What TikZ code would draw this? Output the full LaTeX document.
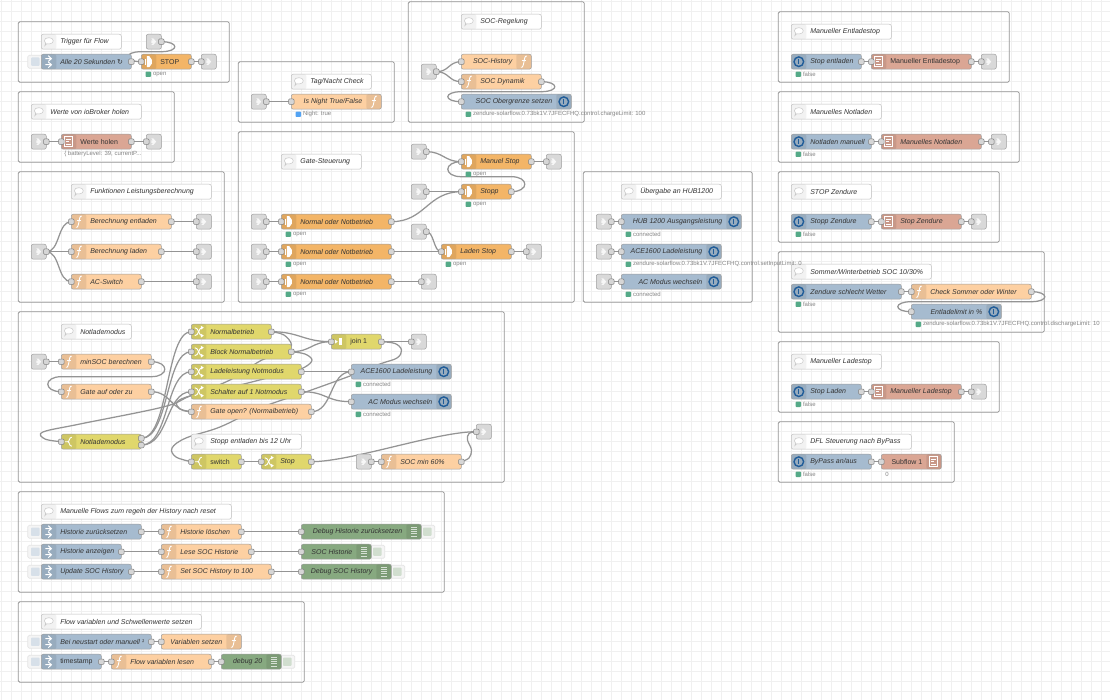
\documentclass[tikz,border=0pt]{standalone}
\usepackage{fontspec}
\usetikzlibrary{calc}
\setmainfont{Liberation Sans}
\newfontfamily\symfont{DejaVu Sans}

\definecolor{cfn}{HTML}{FDD0A2}
\definecolor{cgate}{HTML}{F3B567}
\definecolor{capi}{HTML}{A6BBCF}
\definecolor{csalmon}{HTML}{DAA694}
\definecolor{cchange}{HTML}{E0D76C}
\definecolor{cdebug}{HTML}{87A980}
\definecolor{clink}{HTML}{D9D9D9}
\definecolor{cring}{HTML}{1F5C99}
\definecolor{cgreen}{HTML}{55AA88}
\definecolor{cblue}{HTML}{53A3F3}

\pgfdeclarelayer{canvas}
\pgfdeclarelayer{wires}
\pgfsetlayers{canvas,wires,main}

\tikzset{
    nrgroup/.style={draw=black!42, line width=.8pt, rounded corners=1.5pt},
    nrgrid/.style={draw=black!6, line width=.5pt},
    nrwire/.style={draw=black!42, line width=1.25pt, line cap=round},
    nrbox/.style={draw=black!38, line width=.5pt, rounded corners=2pt, inner sep=0pt, outer sep=0pt, minimum height=15pt},
    nrtext/.style={font=\fontsize{7}{8}\selectfont\itshape, text=black!80, inner sep=0pt, outer sep=0pt},
    nrstatus/.style={font=\fontsize{6}{7}\selectfont, text=black!48, inner sep=0pt, outer sep=0pt, anchor=west},
    nrdot/.style={rounded corners=.8pt, minimum size=5.4pt, inner sep=0pt, outer sep=0pt},
    nrport/.style={draw=black!50, fill=black!16, line width=.5pt, rounded corners=1pt, minimum size=5.4pt, inner sep=0pt},
    nrbtn/.style={draw=black!10, fill=black!4, line width=.7pt, rounded corners=1.5pt, minimum height=13pt, minimum width=15pt, inner sep=0pt},
    nrbtnface/.style={rounded corners=.8pt, minimum size=8.4pt, inner sep=0pt},
    panell/.style={path picture={\fill[black, opacity=.08] (path picture bounding box.north west) rectangle ++(15,15);}},
    panelr/.style={path picture={\fill[black, opacity=.08] (path picture bounding box.north east) rectangle ++(-15,15);}},
    panelc/.style={path picture={\fill[black!5] (path picture bounding box.north west) rectangle ++(15,15);}},
    pics/fnicon/.style={code={
        \draw[white, line width=.9pt] (3,-5.5) .. controls (1,-6.5) and (.8,-3) .. (.2,0) .. controls (-.5,3.5) and (-1,6.5) .. (-3,5.5);
        \draw[white, line width=.7pt] (-2,-1.5) -- (2.5,-1.5);}},
    pics/gateicon/.style={code={
        \fill[white] (-2,-5.5) -- (.5,-5.5) -- (3,-2) -- (3,2) -- (.5,5.5) -- (-2,5.5) -- cycle;
        \draw[white, line width=.6pt] (-3.6,-3) -- (-3.6,3);}},
    pics/injecticon/.style={code={
        \draw[white, line width=1pt] (-3.5,-3) -- (2,-3) (-.5,-6) -- (2.6,-3) -- (-.5,-.3);
        \draw[white, line width=1pt] (-3.5,3) -- (2,3) (-.5,.3) -- (2.6,3) -- (-.5,6);}},
    pics/powericon/.style={code={
        \draw[cring, line width=1.4pt] (0,0) circle (4.8pt);
        \draw[cring, line width=1.2pt] (0,-3) -- (0,2.5);}},
    pics/listicon/.style={code={
        \draw[white, line width=.7pt] (-4,-5) rectangle (4,5);
        \draw[white, line width=.6pt] (-2.5,-2.5) -- (2.5,-2.5) (-2.5,0) -- (.5,0) (-2.5,2.5) -- (2.5,2.5);}},
    pics/debugicon/.style={code={
        \foreach \yy in {-4.4,-2.2,0,2.2,4.4} \draw[white, line width=1pt, opacity=.7] (-3,\yy) -- (3,\yy);}},
    pics/changeicon/.style={code={
        \draw[white, line width=.9pt] (-4,-4) .. controls (0,-4) and (0,4) .. (3,4);
        \draw[white, line width=.9pt] (-4,4) .. controls (0,4) and (0,-4) .. (3,-4);
        \fill[white] (2,-6) -- (5,-4) -- (2,-2) -- cycle (2,2) -- (5,4) -- (2,6) -- cycle;}},
    pics/switchicon/.style={code={
        \draw[white, line width=.9pt] (-4,0) -- (-1,0) (3,-4.5) .. controls (0,-4.5) and (1,0) .. (-1,0) .. controls (1,0) and (0,4.5) .. (3,4.5);}},
    pics/joinicon/.style={code={
        \fill[white] (-4,-2) -- (-1,0) -- (-4,2) -- cycle;
        \fill[white] (.5,-3.5) rectangle (3.5,3.5);}},
    pics/linkicon/.style={code={
        \fill[white, opacity=.8, scale=.8] (-3,-4) -- (-.5,-4) -- (3,0) -- (-.5,4) -- (-3,4) -- (-1,1.5) -- (-3,1.5) -- (-3,-1.5) -- (-1,-1.5) -- cycle;}},
    pics/bubbleicon/.style={code={
        \draw[black!22, fill=white, line width=.5pt] (-4.5,-1) .. controls (-4.5,-5) and (4.5,-5) .. (4.5,-1) .. controls (4.5,2.5) and (-1,2.5) .. (-2,2) -- (-4,4) -- (-3.2,1.5) .. controls (-4,1) .. (-4.5,-1);}},
}

% style, name, left, right, y, text, icon
\newcommand{\nodeleft}[7]{
    \node[nrbox, #1, panell, minimum width={(#4-#3)*1pt}, label={[nrtext, anchor=west, xshift=19pt]west:#6}] (#2) at ({(#3+#4)/2},#5) {};
    \pic at ({#3+7.5},#5) {#7};
}
\newcommand{\noderight}[7]{
    \node[nrbox, #1, panelr, minimum width={(#4-#3)*1pt}, label={[nrtext, anchor=east, xshift=-19pt]east:#6}] (#2) at ({(#3+#4)/2},#5) {};
    \pic at ({#4-7.5},#5) {#7};
}
% name, node, colour, text
\newcommand{\nodestatus}[4]{
    \node[nrdot, fill=#3] (#1dot) at ([xshift=7pt,yshift=-5.1pt]#2.south west) {};
    \node[nrstatus] (#1txt) at ([xshift=2pt]#1dot.east) {#4};
}

\begin{document}
\begin{tikzpicture}[x=1pt, y=-1pt]
    \useasboundingbox (0,0) rectangle (1110,700);

    \begin{pgfonlayer}{canvas}
        \fill[white] (0,0) rectangle (1110,700);
        \foreach \xx in {1.3,11.3,...,1110} \draw[nrgrid] (\xx,0) -- (\xx,700);
        \foreach \yy in {1.7,11.7,...,700} \draw[nrgrid] (0,\yy) -- (1110,\yy);
        \foreach \xa/\ya/\xb/\yb in {18.3/21.7/229.3/82.3, 18.3/91.7/174.3/162.3, 18.3/171.7/224.3/302.3, 238.3/61.7/394.3/122.3,
            238.3/131.7/574.3/302.3, 408.3/1.7/584.3/122.3, 583.3/171.7/752.3/302.3, 778.3/11.7/1009.3/82.3,
            778.3/91.7/1019.3/162.3, 778.3/171.7/999.3/242.3, 778.3/251.7/1044.3/332.3, 778.3/341.7/999.3/412.3,
            778.3/421.7/954.3/482.3, 18.3/311.7/504.3/482.3, 18.3/491.7/444.3/592.3, 18.3/601.7/304.3/682.3}
            \draw[nrgroup] (\xa,\ya) rectangle (\xb,\yb);
    \end{pgfonlayer}

    % comments
    \foreach \n/\xa/\xb/\yy/\txt in {cmTrigger/41.3/121.3/41.7/{Trigger für Flow}, cmWerte/31.3/141.3/111.7/{Werte von ioBroker holen},
        cmLeistung/71.3/211.3/191.7/{Funktionen Leistungsberechnung}, cmNacht/291.3/371.3/81.7/{Tag/Nacht Check},
        cmGate/281.3/361.3/161.7/{Gate-Steuerung}, cmSoc/461.3/541.3/21.7/{SOC-Regelung}, cmHub/621.3/721.3/191.7/{Übergabe an HUB1200},
        cmEntlade/791.3/891.3/31.7/{Manueller Entladestop}, cmNotladen/791.3/881.3/111.7/{Manuelles Notladen},
        cmZendure/791.3/871.3/191.7/{STOP Zendure}, cmSommer/791.3/931.3/271.7/{Sommer/Winterbetrieb SOC 10/30\%},
        cmLadestop/791.3/881.3/361.7/{Manueller Ladestop}, cmDfl/791.3/911.3/441.7/{DFL Steuerung nach ByPass},
        cmNotlade/61.3/131.3/331.7/{Notlademodus}, cmStoppEnt/191.3/301.3/441.7/{Stopp entladen bis 12 Uhr},
        cmHistory/41.3/231.3/511.7/{Manuelle Flows zum regeln der History nach reset}, cmFlowvar/41.3/201.3/621.7/{Flow variablen und Schwellenwerte setzen}}
    {
        \node[nrbox, draw=black!25, fill=white, panelc, minimum width={(\xb-\xa)*1pt}, label={[nrtext, anchor=west, xshift=19pt]west:\txt}] (\n) at ({(\xa+\xb)/2},\yy) {};
        \pic at ({\xa+7.5},\yy) {bubbleicon};
    }

    % link nodes
    \foreach \n/\xa/\yy in {lkTrigIn/146.3/41.7, lkTrigOut/201.3/61.7, lkWerteIn/31.3/141.7, lkWerteOut/146.3/141.7, lkLeist/31.3/251.7,
        lkEntl/196.3/221.7, lkLad/196.3/251.7, lkSw/196.3/281.7, lkNacht/251.3/101.7, lkNormA/251.3/221.7, lkNormB/251.3/251.7,
        lkNormC/251.3/281.7, lkNormOut/421.3/281.7, lkManuel/411.3/151.7, lkManuelOut/546.3/161.7, lkStopp/411.3/191.7, lkLaden/411.3/231.7,
        lkLadenOut/526.3/251.7, lkSoc/421.3/71.7, lkHub/596.3/221.7, lkAce/596.3/251.7, lkMode/596.3/281.7, lkEntOut/981.3/61.7,
        lkNotOut/991.3/141.7, lkZenOut/971.3/221.7, lkLadOut/971.3/391.7, lkMin/31.3/361.7, lkJoinOut/411.3/341.7, lkSocIn/356.3/461.7, lkSocOut/476.3/431.7}
    {
        \node[nrbox, fill=clink, minimum width=15pt] (\n) at ({\xa+7.5},\yy) {};
        \pic at ({\xa+7.5},\yy) {linkicon};
    }

    % inject buttons
    \foreach \n/\xa/\yy in {btAlle/41.3/61.7, btZurueck/41.3/531.7, btAnzeigen/41.3/551.7, btUpdate/41.3/571.7, btNeustart/41.3/641.7, btStamp/41.3/661.7}
    {
        \node[nrbtn] (\n) at ({\xa-6},\yy) {};
        \node[nrbtnface, fill=capi!45] (\n face) at ({\xa-6},\yy) {};
    }
    % debug buttons
    \foreach \n/\xb/\yy in {btDbgZ/421.3/531.7, btDbgS/371.3/551.7, btDbgU/391.3/571.7, btDbg20/281.3/661.7}
    {
        \node[nrbtn] (\n) at ({\xb+6},\yy) {};
        \node[nrbtnface, fill=cdebug!38] (\n face) at ({\xb+6},\yy) {};
    }

    % inject
    \foreach \n/\xa/\xb/\yy/\txt in {inAlle/41.3/131.3/61.7/{Alle 20 Sekunden {\symfont ↻}}, inZurueck/41.3/141.3/531.7/{Historie zurücksetzen},
        inAnzeigen/41.3/121.3/551.7/{Historie anzeigen}, inUpdate/41.3/131.3/571.7/{Update SOC History},
        inNeustart/41.3/151.3/641.7/{Bei neustart oder manuell ¹}, inStamp/41.3/101.3/661.7/{\upshape timestamp}}
    {
        \nodeleft{fill=capi}{\n}{\xa}{\xb}{\yy}{\txt}{injecticon}
    }

    % functions, icon on the left
    \foreach \n/\xa/\xb/\yy/\txt in {fnEntl/71.3/171.3/221.7/{Berechnung entladen}, fnLad/71.3/161.3/251.7/{Berechnung laden}, fnSw/71.3/141.3/281.7/{AC-Switch},
        fnDynamik/461.3/541.3/81.7/{SOC Dynamik}, fnSommer/911.3/1031.3/291.7/{Check Sommer oder Winter}, fnMin/61.3/151.3/361.7/{minSOC berechnen},
        fnAuf/61.3/151.3/391.7/{Gate auf oder zu}, fnOpen/191.3/311.3/411.7/{Gate open? (Normalbetrieb)}, fnSocMin/381.3/461.3/461.7/{SOC min 60\%},
        fnLoeschen/161.3/241.3/531.7/{Historie löschen}, fnLese/161.3/251.3/551.7/{Lese SOC Historie}, fnSet/161.3/271.3/571.7/{Set SOC History to 100},
        fnLesen/111.3/211.3/661.7/{Flow variablen lesen}}
    {
        \nodeleft{fill=cfn}{\n}{\xa}{\xb}{\yy}{\txt}{fnicon}
    }
    % functions, icon on the right
    \foreach \n/\xa/\xb/\yy/\txt in {fnNacht/291.3/381.3/101.7/{Is Night True/False}, fnHistory/461.3/531.3/61.7/{SOC-History}, fnSetzen/161.3/241.3/641.7/{Variablen setzen}}
    {
        \noderight{fill=cfn}{\n}{\xa}{\xb}{\yy}{\txt}{fnicon}
    }

    % gates
    \foreach \n/\xa/\xb/\yy/\txt in {gtStop/141.3/191.3/61.7/{\upshape STOP}, gtNormA/281.3/391.3/221.7/{Normal oder Notbetrieb}, gtNormB/281.3/391.3/251.7/{Normal oder Notbetrieb},
        gtNormC/281.3/391.3/281.7/{Normal oder Notbetrieb}, gtManuel/461.3/531.3/161.7/{Manuel Stop}, gtStopp/461.3/511.3/191.7/{Stopp}, gtLaden/441.3/511.3/251.7/{Laden Stop}}
    {
        \nodeleft{fill=cgate}{\n}{\xa}{\xb}{\yy}{\txt}{gateicon}
    }

    % state nodes, icon on the right
    \foreach \n/\xa/\xb/\yy/\txt in {apOber/461.3/571.3/101.7/{SOC Obergrenze setzen}, apHub/621.3/741.3/221.7/{HUB 1200 Ausgangsleistung}, apAce/621.3/721.3/251.7/{ACE1600 Ladeleistung},
        apMode/621.3/721.3/281.7/{AC Modus wechseln}, apLimit/911.3/1001.3/311.7/{Entladelimit in \%}, apAceB/351.3/451.3/371.7/{ACE1600 Ladeleistung}, apModeB/351.3/451.3/401.7/{AC Modus wechseln}}
    {
        \noderight{fill=capi}{\n}{\xa}{\xb}{\yy}{\txt}{powericon}
    }
    % state nodes, icon on the left
    \foreach \n/\xa/\xb/\yy/\txt in {swEnt/791.3/861.3/61.7/{Stop entladen}, swNot/791.3/871.3/141.7/{Notladen manuell}, swZen/791.3/871.3/221.7/{Stopp Zendure},
        swWetter/791.3/901.3/291.7/{Zendure schlecht Wetter}, swLad/791.3/861.3/391.7/{Stop Laden}, swBypass/791.3/871.3/461.7/{ByPass an/aus}}
    {
        \nodeleft{fill=capi}{\n}{\xa}{\xb}{\yy}{\txt}{powericon}
    }

    % salmon nodes
    \foreach \n/\xa/\xb/\yy/\txt in {slWerte/61.3/131.3/141.7/{\upshape Werte holen}, slEnt/871.3/971.3/61.7/{\upshape Manueller Entladestop}, slNot/881.3/981.3/141.7/{Manuelles Notladen},
        slZen/881.3/961.3/221.7/{Stop Zendure}, slLad/871.3/961.3/391.7/{Manueller Ladestop}}
    {
        \nodeleft{fill=csalmon}{\n}{\xa}{\xb}{\yy}{\txt}{listicon}
    }
    \noderight{fill=csalmon}{slSub}{881.3}{941.3}{461.7}{\upshape Subflow 1}{listicon}

    % change, switch, join
    \foreach \n/\xa/\xb/\yy/\txt in {chNorm/191.3/271.3/331.7/{Normalbetrieb}, chBlock/191.3/291.3/351.7/{Block Normalbetrieb}, chLade/191.3/301.3/371.7/{Ladeleistung Notmodus},
        chSchalter/191.3/301.3/391.7/{Schalter auf 1 Notmodus}, chStop/261.3/311.3/461.7/{Stop}}
    {
        \nodeleft{fill=cchange}{\n}{\xa}{\xb}{\yy}{\txt}{changeicon}
    }
    \nodeleft{fill=cchange}{swNotlade}{61.3}{141.3}{441.7}{Notlademodus}{switchicon}
    \nodeleft{fill=cchange}{swStop}{191.3}{241.3}{461.7}{\upshape switch}{switchicon}
    \nodeleft{fill=cchange}{jnOne}{331.3}{381.3}{341.7}{\upshape join 1}{joinicon}

    % debug
    \foreach \n/\xa/\xb/\yy/\txt in {dbZurueck/301.3/421.3/531.7/{Debug Historie zurücksetzen}, dbSoc/301.3/371.3/551.7/{SOC Historie}, dbUpdate/301.3/391.3/571.7/{Debug SOC History}, dbTwenty/221.3/281.3/661.7/{debug 20}}
    {
        \noderight{fill=cdebug}{\n}{\xa}{\xb}{\yy}{\txt}{debugicon}
    }

    % status
    \foreach \n/\c/\txt in {gtStop/cgreen/open, fnNacht/cblue/{Night: true}, gtNormA/cgreen/open, gtNormB/cgreen/open, gtNormC/cgreen/open, gtManuel/cgreen/open, gtStopp/cgreen/open, gtLaden/cgreen/open,
        apOber/cgreen/{zendure-solarflow.0.73bk1V.7JFECFHQ.control.chargeLimit: 100}, apHub/cgreen/connected, apAce/cgreen/{zendure-solarflow.0.73bk1V.7JFECFHQ.control.setInputLimit: 0}, apMode/cgreen/connected,
        swEnt/cgreen/false, swNot/cgreen/false, swZen/cgreen/false, swWetter/cgreen/false, apLimit/cgreen/{zendure-solarflow.0.73bk1V.7JFECFHQ.control.dischargeLimit: 10},
        swLad/cgreen/false, swBypass/cgreen/false, apAceB/cgreen/connected, apModeB/cgreen/connected}
    {
        \nodestatus{st\n}{\n}{\c}{\txt}
    }
    \node[nrstatus] (stWerte) at ([xshift=3pt,yshift=-5.1pt]slWerte.south west) {\{ batteryLevel: 39, currentP...};
    \node[nrstatus] (stSub) at ([xshift=4pt,yshift=-5.1pt]slSub.south west) {0};

    % ports
    \foreach \n in {fnEntl,fnLad,fnSw,fnDynamik,fnSommer,fnMin,fnAuf,fnOpen,fnSocMin,fnLoeschen,fnLese,fnSet,fnLesen,fnNacht,fnHistory,fnSetzen,
        gtStop,gtNormA,gtNormB,gtNormC,gtManuel,gtStopp,gtLaden,apOber,apHub,apAce,apMode,apLimit,apAceB,apModeB,slWerte,slEnt,slNot,slZen,slLad,slSub,
        chNorm,chBlock,chLade,chSchalter,chStop,swNotlade,swStop,jnOne,dbZurueck,dbSoc,dbUpdate,dbTwenty,lkTrigOut,lkWerteOut,lkEntl,lkLad,lkSw,lkNormOut,
        lkManuelOut,lkLadenOut,lkEntOut,lkNotOut,lkZenOut,lkLadOut,lkJoinOut,lkSocOut}
        \node[nrport] (\n pi) at (\n.west) {};
    \foreach \n in {inAlle,inZurueck,inAnzeigen,inUpdate,inNeustart,inStamp,fnEntl,fnLad,fnSw,fnDynamik,fnSommer,fnMin,fnAuf,fnOpen,fnSocMin,fnLoeschen,fnLese,fnSet,fnLesen,
        gtStop,gtNormA,gtNormB,gtNormC,gtManuel,gtStopp,gtLaden,swEnt,swNot,swZen,swWetter,swLad,swBypass,slWerte,slEnt,slNot,slZen,slLad,
        chNorm,chBlock,chLade,chSchalter,chStop,swStop,jnOne,lkTrigIn,lkWerteIn,lkLeist,lkNacht,lkNormA,lkNormB,lkNormC,lkManuel,lkStopp,lkLaden,lkSoc,lkHub,lkAce,lkMode,lkMin,lkSocIn}
        \node[nrport] (\n po) at (\n.east) {};
    \node[nrport] (swNotladeA) at ([yshift=3.4pt]swNotlade.east) {};
    \node[nrport] (swNotladeB) at ([yshift=-3.4pt]swNotlade.east) {};

    \begin{pgfonlayer}{wires}
        % forward wires
        \foreach \a/\b/\d in {inAlle/gtStop/8, gtStop/lkTrigOut/8, lkWerteIn/slWerte/8, slWerte/lkWerteOut/8, lkLeist/fnEntl/14, lkLeist/fnLad/14, lkLeist/fnSw/14,
            fnEntl/lkEntl/14, fnLad/lkLad/14, fnSw/lkSw/14, lkNacht/fnNacht/14, lkNormA/gtNormA/8, lkNormB/gtNormB/8, lkNormC/gtNormC/8, gtNormA/gtStopp/34,
            gtNormB/gtLaden/14, gtNormC/lkNormOut/14, lkManuel/gtManuel/17, gtManuel/lkManuelOut/8, lkStopp/gtStopp/17, lkLaden/gtLaden/8, gtLaden/lkLadenOut/8,
            lkSoc/fnHistory/13, lkSoc/fnDynamik/13, lkHub/apHub/8, lkAce/apAce/8, lkMode/apMode/8, swEnt/slEnt/5, slEnt/lkEntOut/5, swNot/slNot/5, slNot/lkNotOut/5,
            swZen/slZen/5, slZen/lkZenOut/5, swWetter/fnSommer/5, swLad/slLad/5, slLad/lkLadOut/5, swBypass/slSub/5, lkMin/fnMin/8, fnAuf/fnOpen/20,
            chNorm/jnOne/28, chBlock/jnOne/20, jnOne/lkJoinOut/14, chLade/apAceB/20, chSchalter/apModeB/26, fnOpen/apAceB/22, swStop/chStop/10, chStop/lkSocOut/40, lkSocIn/fnSocMin/5,
            inZurueck/fnLoeschen/10, fnLoeschen/dbZurueck/20, inAnzeigen/fnLese/10, fnLese/dbSoc/20, inUpdate/fnSet/10, fnSet/dbUpdate/10, inNeustart/fnSetzen/5, inStamp/fnLesen/5, fnLesen/dbTwenty/5}
            \draw[nrwire] (\a.east) .. controls +(\d,0) and +(-\d,0) .. (\b.west);
        \foreach \b in {chNorm,chBlock} \draw[nrwire] (swNotladeA.center) .. controls +(28,0) and +(-26,0) .. (\b.west);
        \foreach \b in {chLade,chSchalter} \draw[nrwire] (swNotladeB.center) .. controls +(28,0) and +(-26,0) .. (\b.west);

        % wires that run back
        \foreach \a/\b in {lkTrigIn/gtStop, gtStopp/gtManuel, fnDynamik/apOber, fnSommer/apLimit, fnMin/fnAuf}
            \draw[nrwire] let \p1=(\a.east), \p2=(\b.west), \n1={(\y1+\y2)/2} in
                (\p1) .. controls (\x1+18pt,\y1) and (\x1+18pt,\n1) .. (\x1,\n1) -- (\x2,\n1) .. controls (\x2-18pt,\n1) and (\x2-18pt,\y2) .. (\p2);
        \draw[nrwire] plot[smooth, tension=.6] coordinates {(chNorm.east) (284,335) (291.5,345) (284,354) (262,360) (230,380) (190,396) (163,407) (80,424) (43,432) (45,439) (swNotlade.west)};
        \draw[nrwire] plot[smooth, tension=.6] coordinates {(chBlock.east) (305,354) (312,360) (305,367) (290,372) (220,390) (190,396) (177,402) (180,409) (fnOpen.west)};
        \draw[nrwire] plot[smooth, tension=.6] coordinates {(jnOne.east) (395,343.5) (401.5,350) (397,358) (380,364) (350,376) (303,393) (260,408) (220,427) (186,438) (172,448) (176,457) (swStop.west)};
        \draw[nrwire] plot[smooth, tension=.6] coordinates {(fnSocMin.east) (469,458) (471.5,450) (467.5,440) (469,433.5) (lkSocOut.west)};
    \end{pgfonlayer}
\end{tikzpicture}
\end{document}
